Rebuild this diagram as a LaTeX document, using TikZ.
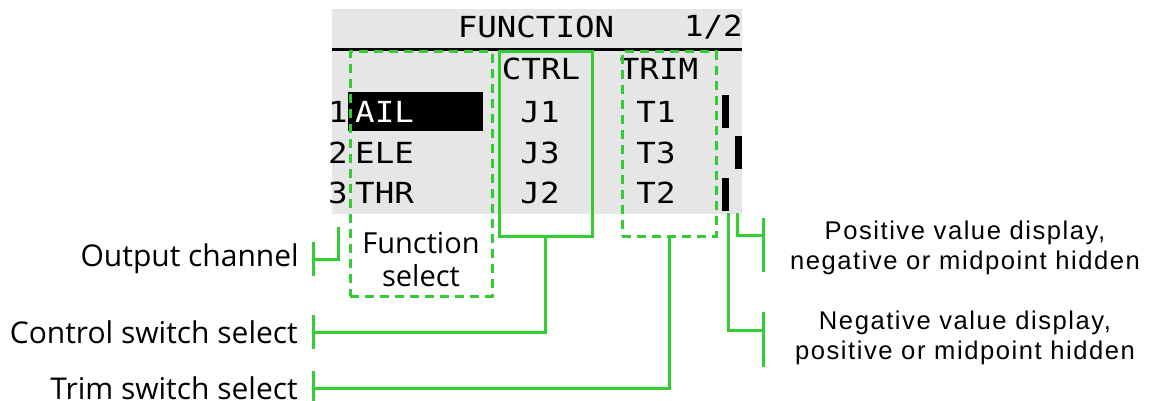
\documentclass[tikz,border=0pt]{standalone}
\usepackage{fontspec}
\usepackage{tikz}
\usetikzlibrary{positioning, calc}
\newfontfamily\lcdfont[FakeStretch=1.12]{DejaVu Sans Mono}
\newfontfamily\lblfont{Open Sans}
\newfontfamily\notefont[LetterSpace=6]{Liberation Sans}
\definecolor{uigreen}{RGB}{51,204,51}
\definecolor{lcdgrey}{RGB}{230,230,230}
\tikzset{
    lcdtxt/.style={inner sep=0pt, font=\lcdfont\fontsize{29}{29}\selectfont},
    lcdinv/.style={lcdtxt, text=white},
    lbl/.style={inner sep=0pt, anchor=east, font=\lblfont\fontsize{30}{33}\selectfont},
    note/.style={inner sep=0pt, align=center, font=\notefont\fontsize{25.6}{30}\selectfont},
    selbox/.style={draw=uigreen, line width=3pt},
    dashbox/.style={selbox, dash pattern=on 9pt off 6pt},
    callout/.style={draw=uigreen, line width=3pt},
}

\begin{document}
\begin{tikzpicture}[x=1pt, y=-1pt]
        \useasboundingbox (0,0) rectangle (1149,401);
        % Bildschirm
        \fill[lcdgrey] (332,9) rectangle (742,214);
        \draw[line width=3pt] (332,49.5) -- (742,49.5);
        \fill[black] (348,92) rectangle (483,131);
        \node[lcdtxt] (title) at (536,27) {FUNCTION};
        \node[lcdtxt, anchor=east] (page) at (743,27) {1/2};
        \node[lcdtxt] (hctrl) at (541,69) {CTRL};
        \node[lcdtxt] (htrim) at (659,69) {TRIM};
        \node[lcdtxt] (n1) at (338,112) {1};
        \node[lcdtxt] (n2) at (338,153) {2};
        \node[lcdtxt] (n3) at (338,193) {3};
        \node[lcdinv, anchor=west] (f1) at (355,112) {AIL};
        \node[lcdtxt, anchor=west] (f2) at (355,153) {ELE};
        \node[lcdtxt, anchor=west] (f3) at (355,193) {THR};
        \node[lcdtxt] (c1) at (540,112) {J1};
        \node[lcdtxt] (c2) at (540,153) {J3};
        \node[lcdtxt] (c3) at (540,193) {J2};
        \node[lcdtxt] (t1) at (656,112) {T1};
        \node[lcdtxt] (t2) at (656,153) {T3};
        \node[lcdtxt] (t3) at (656,193) {T2};
        % Balken
        \fill[black] (722,95) rectangle (729,128);
        \fill[black] (735,136) rectangle (742,169);
        \fill[black] (722,178) rectangle (729,211);
        % Markierungen
        \node[dashbox, minimum width=142pt, minimum height=244pt] (fselbox) at (421,174) {};
        \node[selbox, minimum width=93pt, minimum height=184pt] (ctrlbox) at (545.5,144) {};
        \node[dashbox, minimum width=94pt, minimum height=184pt] (trimbox) at (669,144) {};
        \node[lbl, anchor=center, align=center, font=\lblfont\fontsize{29}{33}\selectfont] (fsel) at (421,259) {Function\\ select};
        % Beschriftungen links
        \node[lbl] (outch)  at (299,259) {Output channel};
        \node[lbl] (ctrlsw) at (298,332) {Control switch select};
        \node[lbl] (trimsw) at (298,388) {Trim switch select};
        \coordinate (chtip) at (338,227);
        \draw[callout] (chtip) |- ([xshift=14pt]outch.east);
        \draw[callout] (ctrlbox.south) |- ([xshift=15pt]ctrlsw.east);
        \draw[callout] (trimbox.south) |- ([xshift=15pt]trimsw.east);
        \draw[callout] ([xshift=14pt, yshift=17pt]outch.east) -- ([xshift=14pt, yshift=-17pt]outch.east);
        \draw[callout] ([xshift=15pt, yshift=17pt]ctrlsw.east) -- ([xshift=15pt, yshift=-17pt]ctrlsw.east);
        \draw[callout] ([xshift=15pt, yshift=17pt]trimsw.east) -- ([xshift=15pt, yshift=-17pt]trimsw.east);
        % Beschriftungen rechts
        \node[note] (posnote) at (965,248) {Positive value display,\\ negative or midpoint hidden};
        \node[note] (negnote) at (965,337.5) {Negative value display,\\ positive or midpoint hidden};
        \coordinate (postip) at (737,213);
        \coordinate (negtip) at (728,213);
        \coordinate (posbar) at (763,245);
        \coordinate (negbar) at (763,339.5);
        \draw[callout] (postip) |- ($(posbar)+(0,-10)$);
        \draw[callout] (negtip) |- ($(negbar)+(0,-9.5)$);
        \draw[callout] ($(posbar)+(0,-27)$) -- ($(posbar)+(0,27)$);
        \draw[callout] ($(negbar)+(0,-27.5)$) -- ($(negbar)+(0,27.5)$);
    \end{tikzpicture}
\end{document}
